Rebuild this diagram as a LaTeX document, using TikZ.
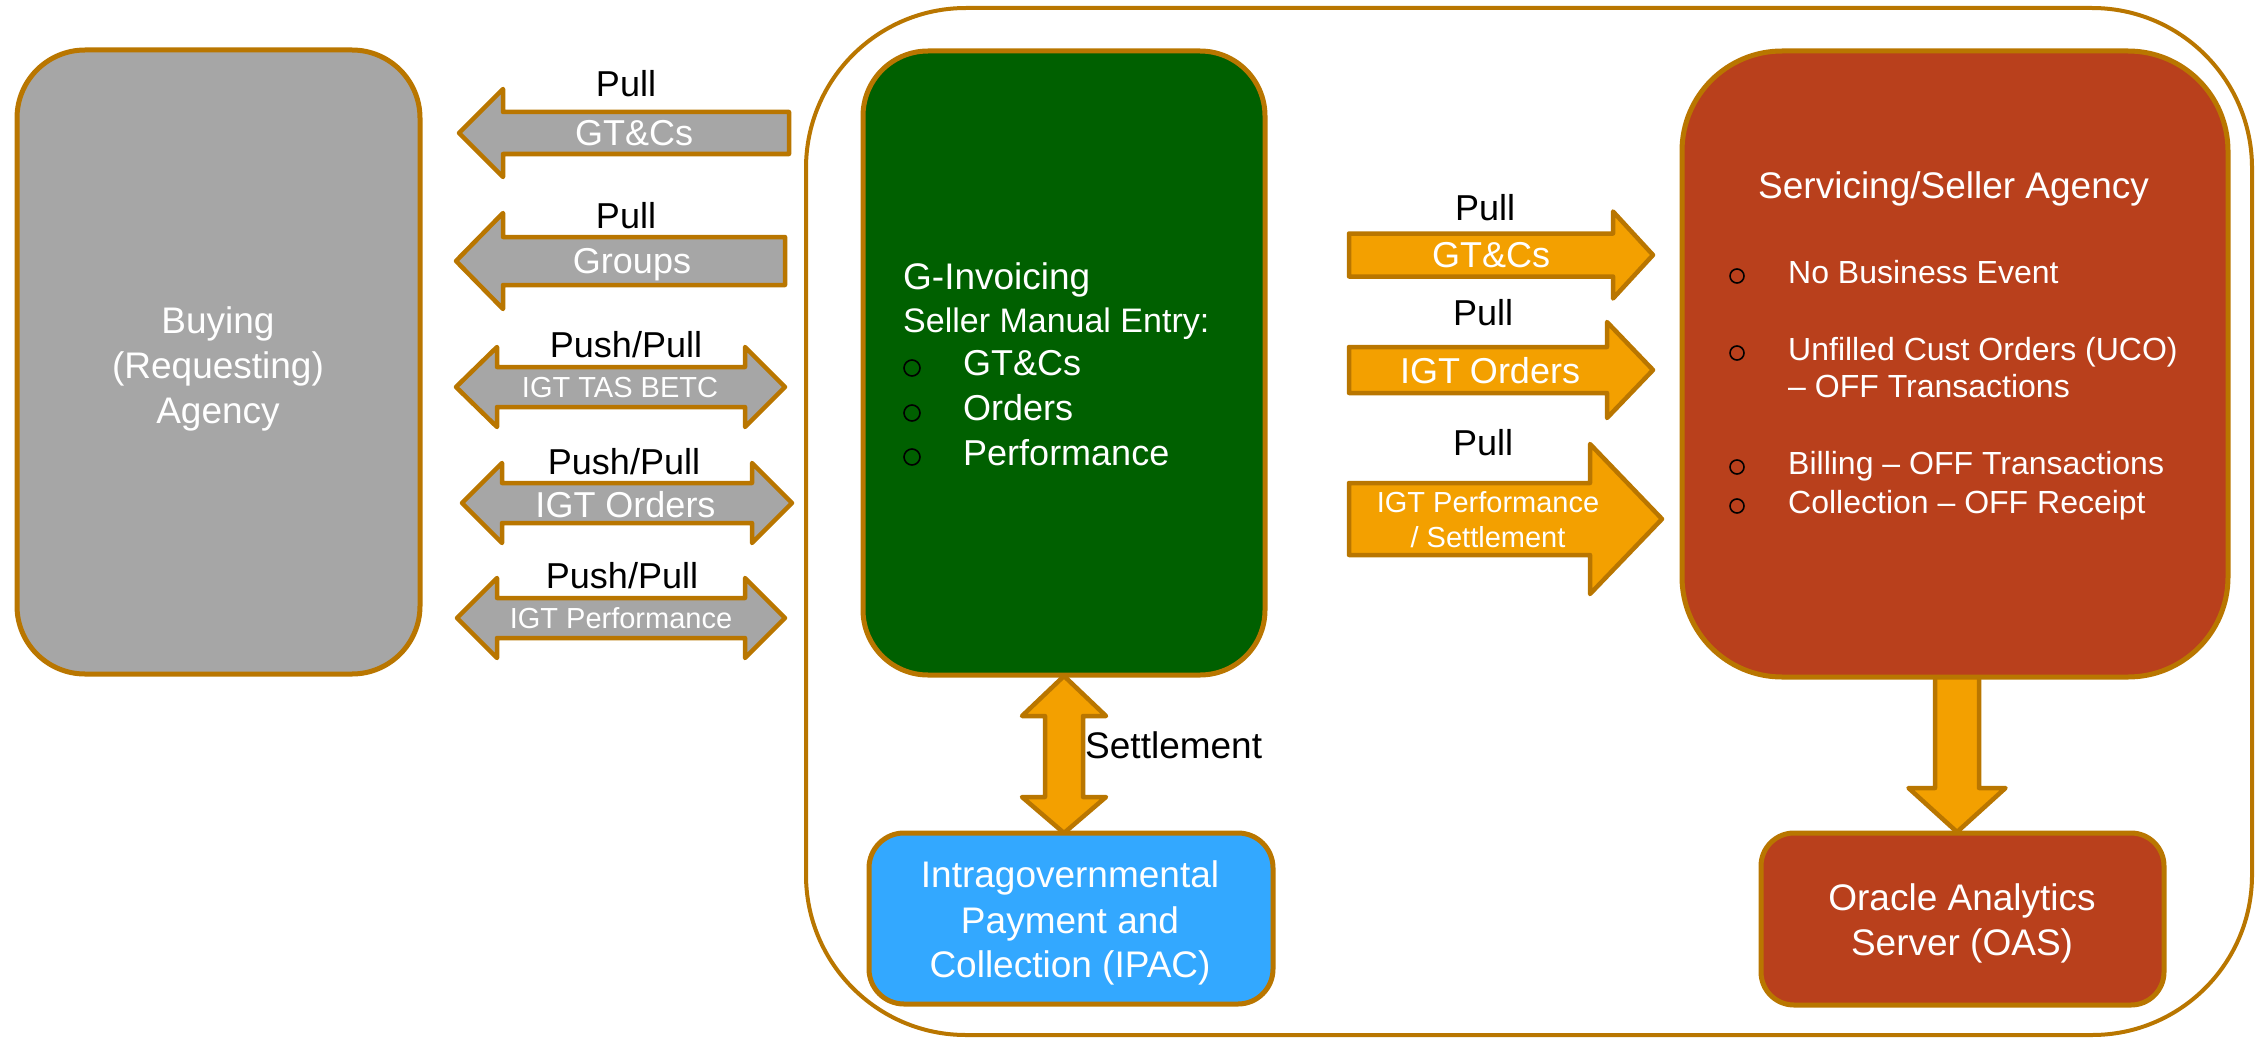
\documentclass[tikz,border=0pt]{standalone}
\usepackage{fontspec}
\setmainfont{Liberation Sans}
\definecolor{bord}{RGB}{185,118,0}
\definecolor{grayf}{RGB}{166,166,166}
\definecolor{greenf}{RGB}{0,96,0}
\definecolor{rust}{RGB}{185,64,28}
\definecolor{bluef}{RGB}{51,168,255}
\definecolor{orangef}{RGB}{243,160,0}
% left-pointing block arrow: style, tip x, centre y, head base x, end x, shaft half, head half
\newcommand\LArrow[7]{\draw[#1] (#2,#3) -- (#4,#3-#7) -- (#4,#3-#6) -- (#5,#3-#6) -- (#5,#3+#6) -- (#4,#3+#6) -- (#4,#3+#7) -- cycle;}
% right-pointing block arrow: style, start x, centre y, head base x, tip x, shaft half, head half
\newcommand\RArrow[7]{\draw[#1] (#2,#3-#6) -- (#4,#3-#6) -- (#4,#3-#7) -- (#5,#3) -- (#4,#3+#7) -- (#4,#3+#6) -- (#2,#3+#6) -- cycle;}
% double horizontal block arrow: style, left tip, centre y, left head base, right head base, right tip, shaft half, head half
\newcommand\DArrow[8]{\draw[#1] (#2,#3) -- (#4,#3-#8) -- (#4,#3-#7) -- (#5,#3-#7) -- (#5,#3-#8) -- (#6,#3) -- (#5,#3+#8) -- (#5,#3+#7) -- (#4,#3+#7) -- (#4,#3+#8) -- cycle;}
\begin{document}
\begin{tikzpicture}[x=1pt,y=-1pt,
  box/.style={draw=bord, line width=5pt, rounded corners=#1, inner sep=0pt},
  box/.default=30,
  blk/.style={draw=bord, line width=4.5pt, line join=round},
  gblk/.style={blk, fill=grayf},
  oblk/.style={blk, fill=orangef},
  lbl/.style={anchor=base, inner sep=0pt, text=black, font=\fontsize{36}{43}\selectfont},
  wt/.style={anchor=base, inner sep=0pt, text=white, font=\fontsize{37}{45}\selectfont},
  wtm/.style={wt, font=\fontsize{36}{43}\selectfont},
  wts/.style={wt, font=\fontsize{29}{35}\selectfont},
  wtb/.style={wt, anchor=base west, font=\fontsize{32}{38}\selectfont},
  bul/.style={draw=black, line width=1.6pt}
]
\useasboundingbox (0,0) rectangle (2259,1038);

% outer frame
\node[box=160, line width=4pt, minimum width=1446pt, minimum height=1027pt] (frame) at (1529,521.5) {};

% down arrow Servicing -> OAS (drawn before box so the box hides its top)
\draw[oblk] (1935,650) -- (1979,650) -- (1979,788) -- (2005.5,788) -- (1957,832) -- (1908.5,788) -- (1935,788) -- cycle;

% boxes
\node[box=68, fill=grayf, minimum width=403pt, minimum height=624pt] (buy) at (218.5,362) {};
\node[box=65, fill=greenf, minimum width=402pt, minimum height=624pt] (ginv) at (1064,363) {};
\node[box=100, fill=rust, minimum width=546pt, minimum height=626pt] (serv) at (1955,364) {};
\node[box=35, fill=bluef, minimum width=404pt, minimum height=171pt] (ipac) at (1071,918.5) {};
\node[box=33, fill=rust, minimum width=403pt, minimum height=172pt] (oas) at (1962.5,919) {};

% settlement double arrow between G-Invoicing and IPAC
\draw[oblk] (1064,676) -- (1106,716) -- (1083,716) -- (1083,797) -- (1106,797) -- (1064,833) -- (1022,797) -- (1045,797) -- (1045,716) -- (1022,716) -- cycle;

% left arrows (gray)
\LArrow{gblk}{459}{133}{503}{789}{21}{44}
\LArrow{gblk}{456}{261}{503}{785}{24}{48}
\DArrow{gblk}{456}{387}{497}{745}{785}{20}{40}
\DArrow{gblk}{462}{503}{502}{752}{792}{20}{40}
\DArrow{gblk}{457}{618}{497}{745}{785}{20}{40}

% right arrows (orange)
\RArrow{oblk}{1349}{255}{1613}{1653}{21.5}{43.5}
\RArrow{oblk}{1349}{370}{1607}{1653}{23}{48}
\RArrow{oblk}{1349}{519}{1590}{1662}{36}{75}

% Buying box text
\node[wt] (buy1) at (218,333) {Buying};
\node[wt] (buy2) at (218,378) {(Requesting)};
\node[wt] (buy3) at (218,423) {Agency};

% G-Invoicing text
\node[wt, anchor=base west] (g1) at (903,289) {G-Invoicing};
\node[wt, anchor=base west, font=\fontsize{34}{40}\selectfont] (g2) at (903,332) {Seller Manual Entry:};
\node[wtm, anchor=base west] (g3) at (963,375) {GT\&Cs};
\node[wtm, anchor=base west] (g4) at (963,420) {Orders};
\node[wtm, anchor=base west] (g5) at (963,465) {Performance};
\draw[bul] (912,368) circle[radius=8];
\draw[bul] (912,413) circle[radius=8];
\draw[bul] (912,457) circle[radius=8];

% Servicing text
\node[wt, anchor=base west] (s0) at (1758,198) {Servicing/Seller Agency};
\node[wtb] (s1) at (1788,283) {No Business Event};
\node[wtb] (s2) at (1788,360) {Unfilled Cust Orders (UCO)};
\node[wtb] (s3) at (1788,397) {– OFF Transactions};
\node[wtb] (s4) at (1788,474) {Billing – OFF Transactions};
\node[wtb] (s5) at (1788,513) {Collection – OFF Receipt};
\draw[bul] (1737,276) circle[radius=7];
\draw[bul] (1737,353) circle[radius=7];
\draw[bul] (1737,467) circle[radius=7];
\draw[bul] (1737,506) circle[radius=7];

% IPAC and OAS text
\node[wt] (i1) at (1070,887) {Intragovernmental};
\node[wt] (i2) at (1070,933) {Payment and};
\node[wt] (i3) at (1070,977) {Collection (IPAC)};
\node[wt] (o1) at (1962,910) {Oracle Analytics};
\node[wt] (o2) at (1962,955) {Server (OAS)};

% left arrow labels
\node[lbl] (l1a) at (626,97) {Pull};
\node[wtm] (l1b) at (634,146) {GT\&Cs};
\node[lbl] (l2a) at (626,228) {Pull};
\node[wtm] (l2b) at (632,273) {Groups};
\node[lbl] (l3a) at (626,357) {Push/Pull};
\node[wts] (l3b) at (620,397) {IGT TAS BETC};
\node[lbl] (l4a) at (624,474) {Push/Pull};
\node[wtm] (l4b) at (625.5,517) {IGT Orders};
\node[lbl] (l5a) at (622,588) {Push/Pull};
\node[wts] (l5b) at (621,628) {IGT Performance};

% right arrow labels
\node[lbl] (r1a) at (1485,220) {Pull};
\node[wtm] (r1b) at (1491,267) {GT\&Cs};
\node[lbl] (r2a) at (1483,325) {Pull};
\node[wtm] (r2b) at (1490,383) {IGT Orders};
\node[lbl] (r3a) at (1483,455) {Pull};
\node[wts] (r3b) at (1488,512) {IGT Performance};
\node[wts] (r3c) at (1488,547) {/ Settlement};

% settlement label
\node[lbl, anchor=base west, font=\fontsize{37}{45}\selectfont] (settle) at (1085,758) {Settlement};
\end{tikzpicture}
\end{document}
